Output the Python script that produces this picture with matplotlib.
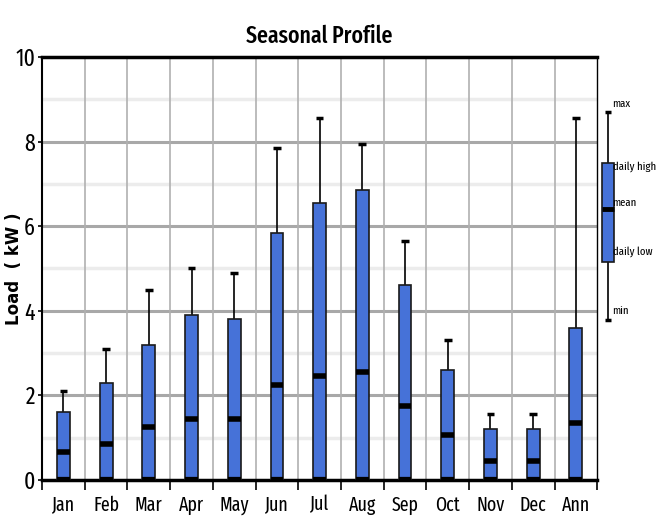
import numpy as np
import matplotlib
matplotlib.use('Agg')
import matplotlib.pyplot as plt

months = ['Jan', 'Feb', 'Mar', 'Apr', 'May', 'Jun', 'Jul', 'Aug', 'Sep', 'Oct', 'Nov', 'Dec', 'Ann']
load_max = [2.1, 3.1, 4.5, 5.0, 4.9, 7.85, 8.55, 7.95, 5.65, 3.3, 1.55, 1.55, 8.55]
daily_high = [1.6, 2.3, 3.2, 3.9, 3.8, 5.85, 6.55, 6.85, 4.6, 2.6, 1.2, 1.2, 3.6]
load_mean = [0.65, 0.85, 1.25, 1.45, 1.45, 2.25, 2.45, 2.55, 1.75, 1.05, 0.45, 0.45, 1.35]
daily_low = [0, 0, 0, 0, 0, 0, 0, 0, 0, 0, 0, 0, 0]
load_min = [0, 0, 0, 0, 0, 0, 0, 0, 0, 0, 0, 0, 0]

plt.rcParams['font.family'] = ['Fira Sans Extra Condensed', 'Archivo Narrow', 'DejaVu Sans']

blue = '#4672d8'
w = 0.3
x = np.arange(len(months))

fig = plt.figure(figsize=(6.57, 5.29), dpi=100)
ax = fig.add_axes([0.064, 0.093, 0.845, 0.799])

# background grid: light odd lines, darker even lines, column separators
for y in [1, 3, 5, 7, 9]:
    ax.axhline(y, color='#ececec', lw=2.5, zorder=0)
for y in [2, 4, 6, 8]:
    ax.axhline(y, color='#a8a8a8', lw=2.2, zorder=0)
for b in np.arange(0.5, len(months) - 1, 1):
    ax.axvline(b, color='#b0b0b0', lw=1.2, zorder=0)

high = np.array(daily_high)
low = np.array(daily_low)
ax.vlines(x, high, load_max, color='black', lw=1.2, zorder=2)
ax.hlines(load_max, x - 0.09, x + 0.09, color='black', lw=2.5, zorder=2)
ax.bar(x, high - low, w, bottom=low, color=blue, edgecolor='#1a1a1a', lw=1.2, zorder=3)
ax.hlines(load_mean, x - w / 2, x + w / 2, color='black', lw=4, zorder=4)
ax.hlines(daily_low, x - w / 2, x + w / 2, color='black', lw=4.5, zorder=4)

ax.set_xlim(-0.5, len(months) - 0.5)
ax.set_ylim(0, 10)
ax.set_yticks([0, 2, 4, 6, 8, 10])
ax.set_xticks(x)
ax.set_xticklabels(months, fontsize=14)
ax.set_xticks(np.arange(-0.5, len(months), 1), minor=True)
ax.tick_params(axis='x', which='major', length=0, pad=11)
ax.tick_params(axis='x', which='minor', length=7, width=1.2, direction='out')
ax.tick_params(axis='y', labelsize=17, length=3, width=1.2, pad=2)

ax.spines['top'].set_linewidth(2.5)
ax.spines['bottom'].set_linewidth(2.5)
ax.spines['left'].set_linewidth(1.5)
ax.spines['right'].set_linewidth(1.0)

ax.set_ylabel('Load  ( kW )', fontsize=12, fontweight='bold', family='DejaVu Sans')
ax.yaxis.set_label_coords(-0.034, 0.5)
ax.set_title('Seasonal Profile', fontsize=17, fontweight='medium', pad=10)

# key drawn to the right of the plot
lx = 12.76
kw = 0.28
ax.vlines(lx, 3.77, 8.7, color='black', lw=1.2, clip_on=False)
ax.hlines([3.77, 8.7], lx - 0.07, lx + 0.07, color='black', lw=2.5, clip_on=False)
ax.bar(lx, 7.5 - 5.15, kw, bottom=5.15, color=blue, edgecolor='#1a1a1a', lw=1.2, clip_on=False, zorder=3)
ax.hlines(6.4, lx - kw / 2, lx + kw / 2, color='black', lw=3.5, clip_on=False, zorder=4)
key_labels = ['max', 'daily high', 'mean', 'daily low', 'min']
key_y = [8.9, 7.4, 6.55, 5.4, 4.0]
for t, y in zip(key_labels, key_y):
    ax.text(12.86, y, t, fontsize=8.4, ha='left', va='center', clip_on=False)

fig.savefig('out.png', dpi=100)
